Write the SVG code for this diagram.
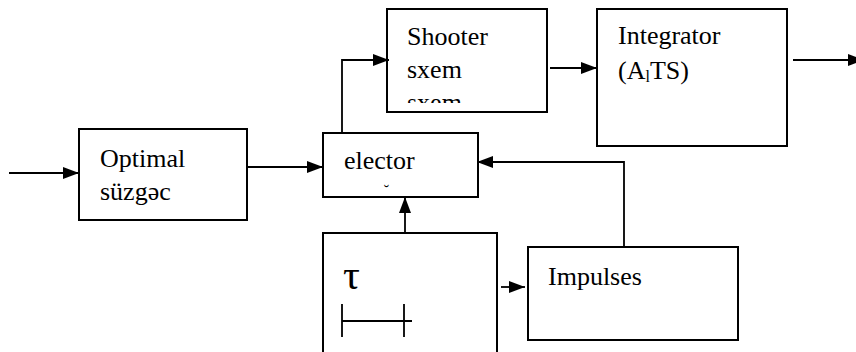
<svg xmlns="http://www.w3.org/2000/svg" width="856" height="352" viewBox="0 0 856 352">
<style>
.box{fill:#fff;stroke:#000;stroke-width:2}
.ln{fill:none;stroke:#000;stroke-width:1.8}
text{font-family:'Liberation Serif','Times New Roman',serif;fill:#000}
.t{font-size:26px}
.tau{font-size:42px}
.sub{font-size:16px}
.brv{font-size:16px}
</style>
<defs>
<marker id="ah" markerUnits="userSpaceOnUse" markerWidth="16" markerHeight="12" refX="16" refY="6" orient="auto">
<path d="M0,0 L16,6 L0,12 z" fill="#000"/>
</marker>
<clipPath id="shclip"><rect x="387" y="9" width="160" height="94"/></clipPath>
</defs>
<rect width="856" height="352" fill="#fff"/>
<g id="optimal">
<rect class="box" x="79" y="129" width="168" height="91"/>
<text class="t" x="100" y="167">Optimal</text>
<text class="t" x="100" y="200">süzgəc</text>
</g>
<g id="elector">
<rect class="box" x="323" y="133" width="155" height="64"/>
<text class="t" x="344" y="169">elector</text>
<text class="brv" x="386.5" y="196" text-anchor="middle">˘</text>
</g>
<g id="shooter">
<rect class="box" x="387" y="9" width="160" height="103"/>
<text class="t" x="407" y="45">Shooter</text>
<text class="t" x="407" y="78">sxem</text>
<text class="t" x="407" y="111" clip-path="url(#shclip)">sxem</text>
</g>
<g id="integrator">
<rect class="box" x="597" y="9" width="190" height="137"/>
<text class="t" x="618" y="44">Integrator</text>
<text class="t" x="618" y="79">(A<tspan class="sub" dy="2.5">l</tspan><tspan dy="-2.5">TS)</tspan></text>
</g>
<g id="tau">
<rect class="box" x="323" y="233" width="174" height="130"/>
<text class="tau" x="343" y="289">τ</text>
<path class="ln" d="M342,304 V337 M342,321 H412 M404,304 V337"/>
</g>
<g id="impulses">
<rect class="box" x="528" y="247" width="210" height="93"/>
<text class="t" x="548" y="285">Impulses</text>
</g>
<g id="connectors">
<path class="ln" d="M9,173 H79" marker-end="url(#ah)"/>
<path class="ln" d="M247,167 H323" marker-end="url(#ah)"/>
<path class="ln" d="M342,133 V60 H389" marker-end="url(#ah)"/>
<path class="ln" d="M550,68 H597" marker-end="url(#ah)"/>
<path class="ln" d="M793,60 H864" marker-end="url(#ah)"/>
<path class="ln" d="M624,247 V162 H477" marker-end="url(#ah)"/>
<path class="ln" d="M405,233 V197" marker-end="url(#ah)"/>
<path class="ln" d="M501,287 H525" marker-end="url(#ah)"/>
</g>
</svg>
